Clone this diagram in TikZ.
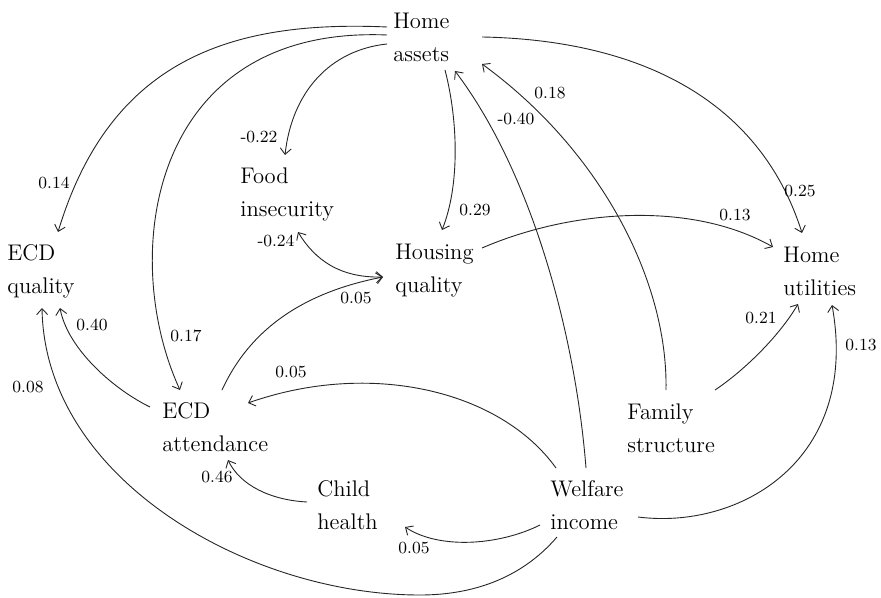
\documentclass[tikz,border=0pt]{standalone}
\usetikzlibrary{arrows.meta}
\begin{document}
\begin{tikzpicture}[x=0.5pt,y=-0.5pt,
  var/.style={anchor=north west, align=left, inner sep=0pt, font=\fontsize{11.3}{16.5}\selectfont},
  lab/.style={inner sep=0pt, font=\fontsize{8.5}{10}\selectfont},
  conn/.style={draw=black!85, line width=0.45pt, -{Straight Barb[length=3pt,width=5.5pt]}},
  conn2/.style={draw=black!85, line width=0.45pt, {Straight Barb[length=3pt,width=5.5pt]}-{Straight Barb[length=3pt,width=5.5pt]}}]
\useasboundingbox (0,0) rectangle (881,598);
% variables
\node[var] (ha) at (393,13) {Home\\assets};
\node[var] (fi) at (240,167) {Food\\insecurity};
\node[var] (eq) at (7,244) {ECD\\quality};
\node[var] (hq) at (395,244) {Housing\\quality};
\node[var] (hu) at (783,247) {Home\\utilities};
\node[var] (ea) at (162,402) {ECD\\attendance};
\node[var] (fs) at (627,403) {Family\\structure};
\node[var] (ch) at (317,480) {Child\\health};
\node[var] (wi) at (550,480) {Welfare\\income};
% paths
\draw[conn] ([shift={(-6,14)}]ha.north west) .. controls (230,20) and (110,60) .. ([shift={(51,-12)}]eq.north west) node[lab] at (54,183) {0.14};
\draw[conn] ([shift={(-6,22)}]ha.north west) .. controls (150,25) and (118,255) .. ([shift={(18,-12)}]ea.north west) node[lab] at (186,336) {0.17};
\draw[conn] ([shift={(-6,31)}]ha.north west) .. controls (330,50) and (292,92) .. ([shift={(45,-12)}]fi.north west) node[lab] at (259,137) {-0.22};
\draw[conn] ([shift={(52,57)}]ha.north west) .. controls (458,120) and (460,185) .. ([shift={(47,-14)}]hq.north west) node[lab] at (475,210) {0.29};
\draw[conn] ([shift={(89,24)}]ha.north west) .. controls (640,40) and (760,100) .. ([shift={(19,-14)}]hu.north west) node[lab] at (800,191) {0.25};
\draw[conn] ([shift={(36,-12)}]wi.north west) .. controls (575,330) and (530,170) .. ([shift={(62,58)}]ha.north west) node[lab] at (516,119) {-0.40};
\draw[conn] ([shift={(39,-13)}]fs.north west) .. controls (668,280) and (600,150) .. ([shift={(89,51)}]ha.north west) node[lab] at (550,93) {0.18};
\draw[conn] ([shift={(87,4)}]hq.north west) .. controls (570,210) and (690,200) .. ([shift={(-10,0)}]hu.north west) node[lab] at (735,215) {0.13};
\draw[conn2] ([shift={(58,65)}]fi.north west) .. controls (315,260) and (340,278) .. ([shift={(-12,33)}]hq.north west) node[lab] at (276,241) {-0.24};
\draw[conn] ([shift={(60,-12)}]ea.north west) .. controls (245,340) and (290,295) .. ([shift={(-12,33)}]hq.north west) node[lab] at (356,298) {0.05};
\draw[conn] ([shift={(-12,5)}]ea.north west) .. controls (115,390) and (68,350) .. ([shift={(53,64)}]eq.north west) node[lab] at (92,325) {0.40};
\draw[conn] ([shift={(7,57)}]wi.north west) .. controls (520,580) and (470,595) .. (420,595) .. controls (250,595) and (45,480) .. ([shift={(35,64)}]eq.north west) node[lab] at (28,387) {0.08};
\draw[conn] ([shift={(6,-12)}]wi.north west) .. controls (500,390) and (370,360) .. ([shift={(86,1)}]ea.north west) node[lab] at (291,372) {0.05};
\draw[conn] ([shift={(-10,22)}]ch.north west) .. controls (270,500) and (240,485) .. ([shift={(66,58)}]ea.north west) node[lab] at (217,477) {0.46};
\draw[conn] ([shift={(-10,45)}]wi.north west) .. controls (500,545) and (440,550) .. ([shift={(88,47)}]ch.north west) node[lab] at (414,548) {0.05};
\draw[conn] ([shift={(88,-13)}]fs.north west) .. controls (745,370) and (780,335) .. ([shift={(15,57)}]hu.north west) node[lab] at (761,318) {0.21};
\draw[conn] ([shift={(88,37)}]wi.north west) .. controls (740,530) and (860,460) .. ([shift={(49,58)}]hu.north west) node[lab] at (861,345) {0.13};
\end{tikzpicture}
\end{document}
